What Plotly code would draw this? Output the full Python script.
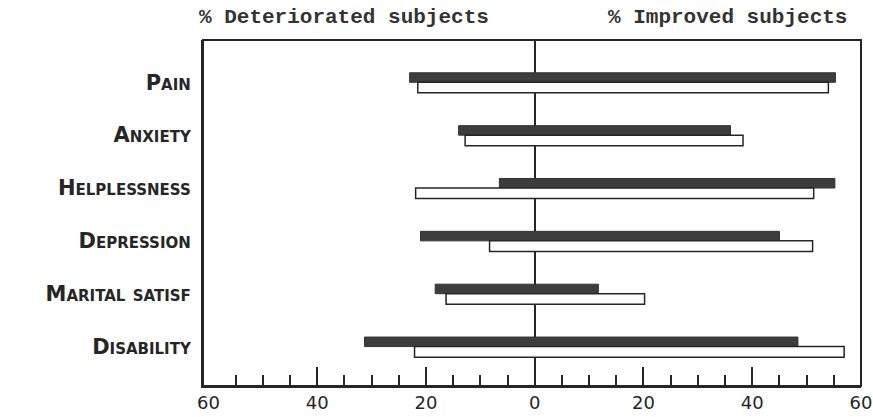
import plotly.graph_objects as go

categories = ["Pain", "Anxiety", "Helplessness", "Depression", "Marital satisf", "Disability"]

# series A (dark bars): % deteriorated / % improved
dark_deteriorated = [23.0, 14.0, 6.5, 21.0, 18.3, 31.3]
dark_improved = [55.3, 36.0, 55.2, 45.0, 11.7, 48.4]

# series B (white bars): % deteriorated / % improved
white_deteriorated = [21.5, 12.8, 21.9, 8.3, 16.3, 22.1]
white_improved = [54.0, 38.3, 51.3, 51.1, 20.2, 56.9]

label_values = [-60, -40, -20, 0, 20, 40, 60]
tick_labels = ["60", "40", "20", "0", "20", "40", "60"]
major_ticks = [-40, -20, 0, 20, 40]
minor_ticks = [-55, -50, -45, -35, -30, -25, -15, -10, -5,
               5, 10, 15, 25, 30, 35, 45, 50, 55]

ink = "#262626"
x_range = [-61, 60]

fig = go.Figure()
fig.add_trace(go.Bar(
    y=categories,
    x=[d + i for d, i in zip(dark_deteriorated, dark_improved)],
    base=[-d for d in dark_deteriorated],
    orientation="h",
    width=0.18, offset=-0.18,
    marker=dict(color="#3d3d3d", line=dict(color="#333333", width=1)),
    showlegend=False, hoverinfo="skip",
))
fig.add_trace(go.Bar(
    y=categories,
    x=[d + i for d, i in zip(white_deteriorated, white_improved)],
    base=[-d for d in white_deteriorated],
    orientation="h",
    width=0.2, offset=0.0,
    marker=dict(color="white", line=dict(color=ink, width=1.5)),
    showlegend=False, hoverinfo="skip",
))
# empty trace so the label-only axis gets drawn
fig.add_trace(go.Scatter(x=[], y=[], xaxis="x2", yaxis="y", showlegend=False))

fig.update_layout(
    width=873, height=417,
    margin=dict(l=203, r=12, t=40, b=31, autoexpand=False),
    paper_bgcolor="white", plot_bgcolor="white",
    barmode="overlay",
    xaxis=dict(
        range=x_range, automargin=False,
        tickvals=major_ticks, showticklabels=False,
        ticks="inside", ticklen=19, tickwidth=2, tickcolor=ink,
        minor=dict(tickvals=minor_ticks, ticks="inside", ticklen=11, tickwidth=1.5, tickcolor=ink),
        showgrid=False,
        zeroline=True, zerolinecolor=ink, zerolinewidth=1.5,
        showline=True, linecolor=ink, linewidth=2,
    ),
    xaxis2=dict(
        range=x_range, overlaying="x", side="bottom", automargin=False,
        tickvals=label_values, ticktext=tick_labels,
        ticks="", showgrid=False, zeroline=False, showline=False,
        ticklabelstandoff=4,
        tickfont=dict(family="DejaVu Sans", size=18, color=ink),
    ),
    yaxis=dict(
        type="category", categoryorder="array", categoryarray=categories,
        range=[5.746, -0.80], automargin=False,
        ticks="", showgrid=False, zeroline=False,
        showline=True, linecolor=ink, linewidth=2,
        ticklabelstandoff=6,
        tickfont=dict(family="DejaVu Sans", size=21, color=ink, variant="small-caps", weight="bold"),
    ),
    shapes=[dict(type="rect", xref="paper", yref="paper", x0=0, x1=1, y0=0, y1=1,
                 line=dict(color=ink, width=2), fillcolor="rgba(0,0,0,0)", layer="above")],
    annotations=[
        dict(text="% Deteriorated subjects", xref="paper", yref="paper",
             x=-0.009, y=1.066, xanchor="left", yanchor="middle", showarrow=False,
             font=dict(family="Liberation Mono", size=21, color="#333333", weight="bold")),
        dict(text="% Improved subjects", xref="paper", yref="paper",
             x=0.982, y=1.066, xanchor="right", yanchor="middle", showarrow=False,
             font=dict(family="Liberation Mono", size=21, color="#333333", weight="bold")),
    ],
)

fig.write_html("out.html", config={"displayModeBar": False},
               post_script="document.body.style.margin='0';")
